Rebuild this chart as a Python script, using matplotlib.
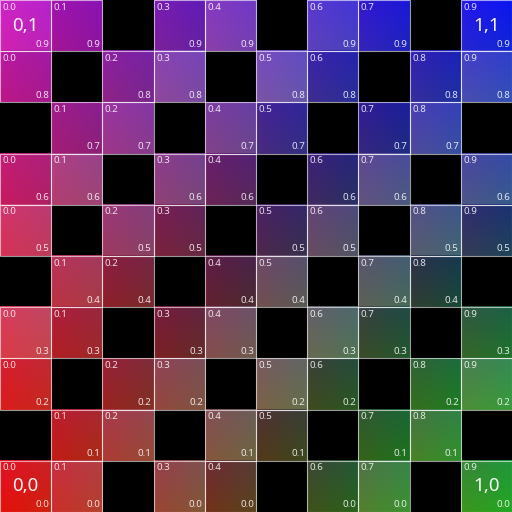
import numpy as np
import matplotlib
matplotlib.use("Agg")
import matplotlib.pyplot as plt
from matplotlib.patches import Rectangle

# grid labels (column -> x label, row -> y label)
x_labels = ["0.0", "0.1", "0.2", "0.3", "0.4", "0.5", "0.6", "0.7", "0.8", "0.9"]
y_labels = ["0.0", "0.1", "0.2", "0.3", "0.4", "0.5", "0.6", "0.7", "0.8", "0.9"]

# big labels in the four corner cells
corner_labels = {(0, 0): "0,0", (9, 0): "1,0", (0, 9): "0,1", (9, 9): "1,1"}

# cell colours, rows from top (0.9) to bottom (0.0); None = empty cell
cell_rows = [
    [(195, 35, 190), (150, 20, 165), None, (110, 30, 170), (125, 60, 185), None, (80, 60, 200), (40, 30, 200), None, (25, 30, 225)],
    [(175, 25, 150), None, (130, 35, 150), (130, 70, 170), None, (110, 80, 180), (50, 40, 160), None, (40, 40, 170), (60, 70, 190)],
    [None, (150, 30, 130), (145, 55, 150), None, (115, 65, 150), (60, 40, 140), None, (40, 35, 140), (65, 70, 170), None],
    [(185, 30, 110), (165, 65, 125), None, (130, 65, 130), (95, 35, 100), None, (50, 40, 110), (85, 80, 140), None, (65, 80, 150)],
    [(200, 55, 100), None, (145, 60, 110), (110, 35, 75), None, (65, 40, 90), (90, 75, 110), None, (75, 90, 125), (40, 55, 100)],
    [None, (175, 55, 80), (130, 35, 55), None, (85, 35, 60), (100, 80, 95), None, (80, 95, 100), (35, 60, 65), None],
    [(205, 65, 85), (165, 35, 50), None, (110, 35, 50), (120, 80, 90), None, (90, 105, 95), (45, 75, 55), None, (40, 100, 55)],
    [(205, 35, 40), None, (140, 40, 45), (135, 75, 75), None, (110, 100, 85), (50, 75, 45), None, (40, 110, 45), (65, 140, 70)],
    [None, (180, 35, 35), (160, 65, 65), None, (120, 90, 75), (70, 60, 40), None, (40, 100, 40), (60, 130, 55), None],
    [(215, 25, 25), (190, 55, 55), None, (140, 75, 65), (100, 55, 40), None, (50, 85, 40), (70, 130, 60), None, (45, 150, 45)],
]

# corner colours of the overall colour field, used for the shading inside each cell
c00 = np.array([215, 25, 25]) / 255
c10 = np.array([45, 150, 45]) / 255
c01 = np.array([195, 35, 190]) / 255
c11 = np.array([25, 30, 225]) / 255


def field(gx, gy):
    gx = gx[..., None]
    gy = gy[..., None]
    return (c00 * (1 - gx) * (1 - gy) + c10 * gx * (1 - gy)
            + c01 * (1 - gx) * gy + c11 * gx * gy)


fig = plt.figure(figsize=(5.12, 5.12), dpi=100, facecolor="black")
ax = fig.add_axes([0, 0, 1, 1])
ax.set_facecolor("black")
ax.set_xlim(0, 10)
ax.set_ylim(0, 10)
ax.axis("off")

n = 24
k = 1.5  # how strong the shading inside a cell is
txt_col = (1, 1, 1, 0.85)
for r, row in enumerate(cell_rows):
    j = 9 - r
    for i, col in enumerate(row):
        if col is None:
            continue
        base = np.array(col) / 255
        s = (np.arange(n) + 0.5) / n
        gx, gy = np.meshgrid((i + s) / 10, (j + s) / 10)
        centre = field(np.array((i + 0.5) / 10), np.array((j + 0.5) / 10))
        img = np.clip(base + k * (field(gx, gy) - centre), 0, 1)
        ax.imshow(img, origin="lower", extent=(i, i + 1, j, j + 1),
                  interpolation="bilinear", zorder=1)
        ax.add_patch(Rectangle((i, j), 1, 1, fill=False,
                               edgecolor=(1, 1, 1, 0.6), lw=0.8, zorder=2))
        ax.text(i + 0.05, j + 0.95, x_labels[i], ha="left", va="top",
                fontsize=7, color=txt_col, family="Noto Sans", zorder=3)
        ax.text(i + 0.96, j + 0.05, y_labels[j], ha="right", va="bottom",
                fontsize=7, color=txt_col, family="Noto Sans", zorder=3)
        if (i, j) in corner_labels:
            ax.text(i + 0.5, j + 0.5, corner_labels[(i, j)], ha="center",
                    va="center", fontsize=13.5, color=(1, 1, 1, 0.95),
                    family="Noto Sans", zorder=3)

ax.set_xlim(0, 10)
ax.set_ylim(0, 10)
ax.set_aspect("auto")
fig.savefig("out.png", dpi=100, facecolor="black")
